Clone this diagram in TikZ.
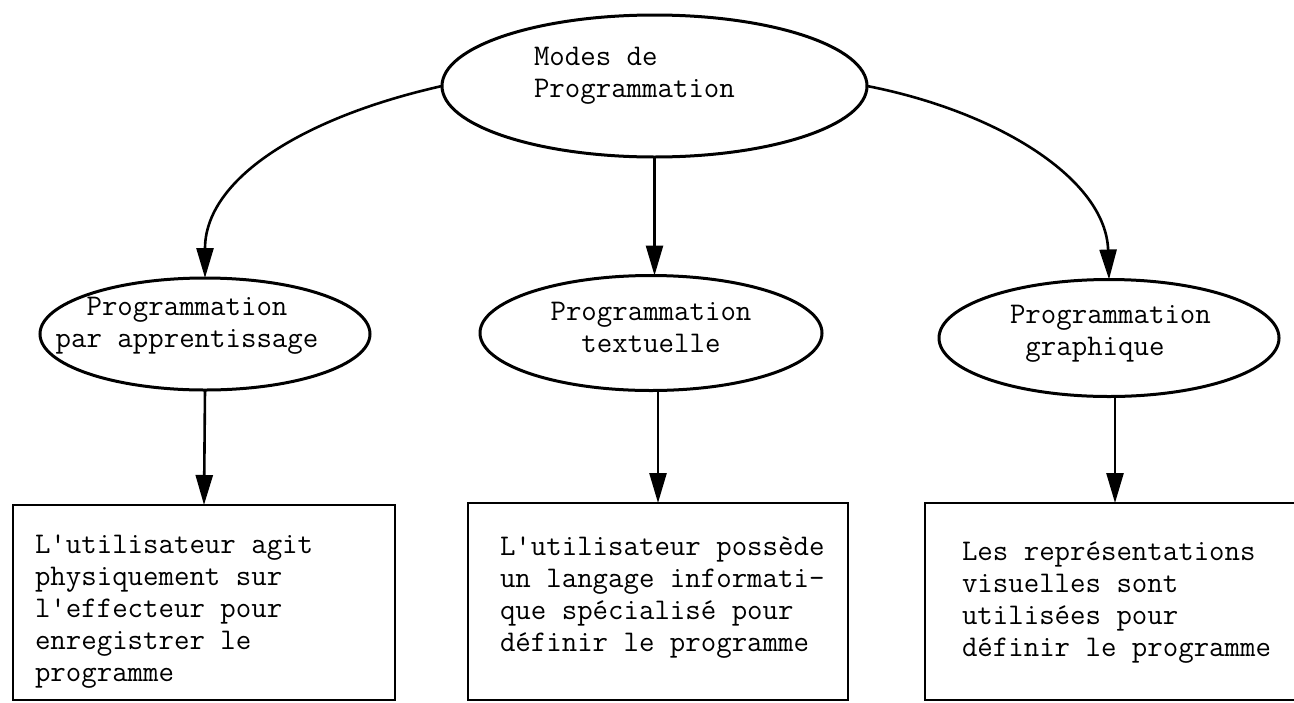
\documentclass[tikz,border=0pt]{standalone}
\usepackage{fontspec}
\usetikzlibrary{shapes.geometric,arrows.meta}
\begin{document}
\begin{tikzpicture}[x=0.5pt,y=-0.5pt,
  oval/.style={ellipse,draw,line width=1.5pt,inner sep=0pt,outer sep=0pt},
  card/.style={rectangle,draw,line width=1.1pt,inner sep=0pt,outer sep=0pt},
  txt/.style={inner sep=0pt,outer sep=0pt,font=\ttfamily\fontsize{15}{16}\selectfont},
  link/.style={line width=1.3pt,-{Triangle[length=15pt,width=8.5pt]}}
]
\clip (0,0) rectangle (1294,702);
\fill[white] (0,0) rectangle (1294,702);

% ellipses
\node[oval,minimum width=212.5pt,minimum height=71pt] (modes) at (654.5,86) {};
\node[oval,minimum width=165pt,minimum height=56pt] (appr) at (205,334) {};
\node[oval,minimum width=171pt,minimum height=57.5pt] (textu) at (651,333) {};
\node[oval,minimum width=170pt,minimum height=58.5pt] (graph) at (1109,338) {};

\node[txt,align=left,anchor=north west] (tmodes) at (534,47) {Modes de\\Programmation};
\node[txt,align=center,anchor=north] (tappr) at (187,297) {Programmation\\par apprentissage};
\node[txt,align=center,anchor=north] (ttextu) at (651,302) {Programmation\\textuelle};
\node[txt,align=left,anchor=north west] (tgraph) at (1010,305) {Programmation\\\phantom{g}graphique};

% boxes
\node[card,minimum width=191pt,minimum height=97.5pt] (box1) at (204,602.5) {};
\node[card,minimum width=190pt,minimum height=98.5pt] (box2) at (658,601.5) {};
\node[card,minimum width=190pt,minimum height=98.5pt] (box3) at (1115,601.5) {};

\node[txt,align=left,anchor=north west] (tbox1) at (35,535)
  {L'utilisateur agit\\physiquement sur\\l'effecteur pour\\enregistrer le\\programme};
\node[txt,align=left,anchor=north west] (tbox2) at (500,537)
  {L'utilisateur possède\\un langage informati-\\que spécialisé pour\\définir le programme};
\node[txt,align=left,anchor=north west] (tbox3) at (962,542)
  {Les représentations\\visuelles sont\\utilisées pour\\définir le programme};

% connectors
\draw[link] (modes.west) .. controls (300,118) and (205,180) .. (appr.north);
\draw[link] (modes.east) .. controls (1000,112) and (1106,180) .. (graph.north);
\draw[link] (modes.south) -- (modes.south |- textu.north);
\draw[link] (appr.south) -- (box1.north);
\draw[link] (box2.north |- textu.south) -- (box2.north);
\draw[link] (box3.north |- graph.south) -- (box3.north);
\end{tikzpicture}
\end{document}
